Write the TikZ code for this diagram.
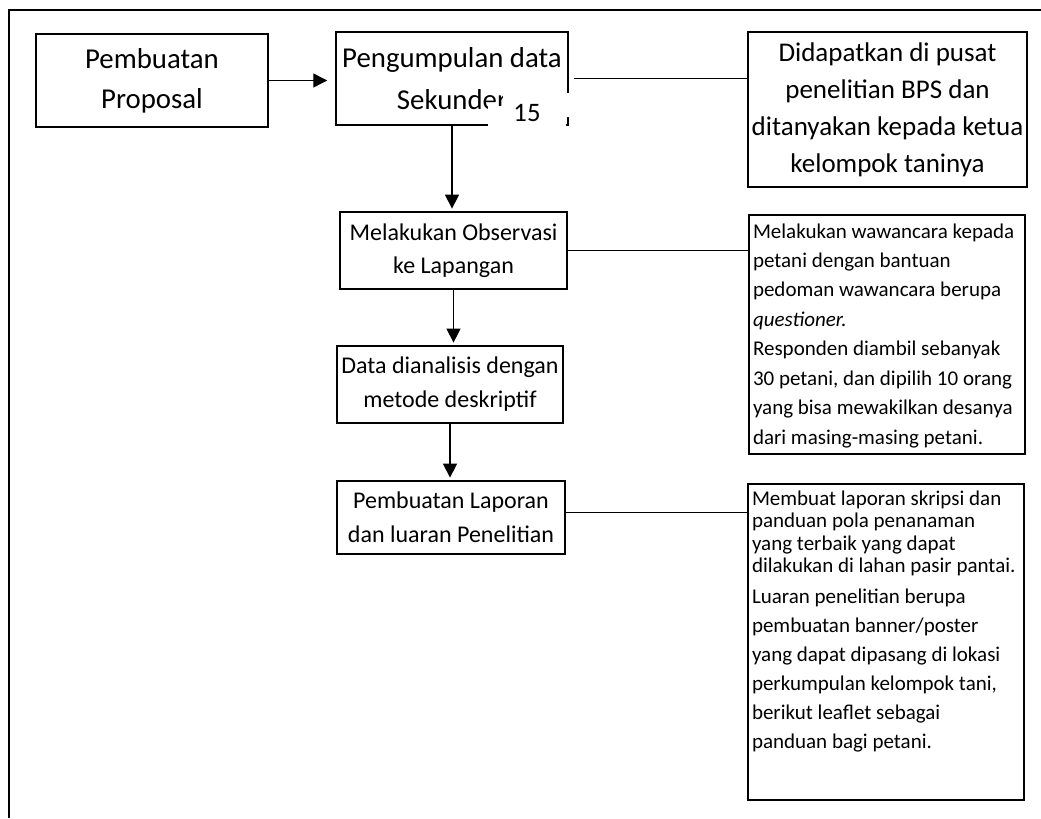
\documentclass[tikz,border=0pt]{standalone}
\usepackage{fontspec}
\setmainfont{Carlito}
\usetikzlibrary{arrows.meta}

\begin{document}
\begin{tikzpicture}[x=0.75pt,y=-0.75pt,
  box/.style={draw,line width=1.1pt,inner sep=1pt,align=center},
  arr/.style={-{Triangle[length=10.5pt,width=10.5pt]},line width=1pt,shorten >=2pt},
  link/.style={line width=1pt}]
\useasboundingbox (0,0) rectangle (1041,818);
\draw[line width=1.5pt] (9,818) -- (9,10) -- (1041,10);
% top row
\node[box,minimum width=174pt,minimum height=69.75pt,font=\fontsize{21.6}{30}\selectfont] (proposal) at (152,80.5) {Pembuatan\\Proposal};
\node[box,minimum width=174pt,minimum height=69.75pt,font=\fontsize{21.6}{31.5}\selectfont] (secondary) at (452,78.5) {Pengumpulan data\\Sekunder};
\node[box,minimum width=209.25pt,minimum height=116.25pt,font=\fontsize{20.25}{27.75}\selectfont] (bps) at (887.5,109.5) {Didapatkan di pusat\\penelitian BPS dan\\ditanyakan kepada ketua\\kelompok taninya};
% page number box over the corner
\fill[white] (488,128) -- (488,106) -- (503,106) -- (503,93) -- (571,93) -- (571,117) -- (566,117) -- (566,128) -- cycle;
\node[font=\fontsize{20}{24}\selectfont,inner sep=0pt] (pagenum) at (527,113) {15};
% middle column
\node[box,minimum width=170.25pt,minimum height=57.75pt,font=\fontsize{18}{25}\selectfont] (observe) at (453.5,250.5) {Melakukan Observasi\\ke Lapangan};
\node[box,minimum width=169.5pt,minimum height=57.75pt,font=\fontsize{18}{25.5}\selectfont] (analyse) at (450,384.5) {Data dianalisis dengan\\metode deskriptif};
\node[box,minimum width=171pt,minimum height=54.75pt,font=\fontsize{18}{25.5}\selectfont] (report) at (451,517.5) {Pembuatan Laporan\\dan luaran Penelitian};
% notes on the right
\node[box,minimum width=207pt,minimum height=179.25pt,inner sep=0pt] (interview) at (887,334.5) {\parbox[c][179.25pt][t]{201pt}{\fontsize{15.75}{22.1}\selectfont
\rule{0pt}{17.25pt}\mbox{Melakukan wawancara kepada}\\
\mbox{petani dengan bantuan}\\
\mbox{pedoman wawancara berupa}\\
\mbox{\textit{questioner.}}\\
\mbox{Responden diambil sebanyak}\\
\mbox{30 petani, dan dipilih 10 orang}\\
\mbox{yang bisa mewakilkan desanya}\\
\mbox{dari masing-masing petani.}}};
\node[box,minimum width=207pt,minimum height=237pt,inner sep=0pt] (output) at (886,642) {\parbox[c][237pt][t]{201pt}{\fontsize{15.75}{16.9}\selectfont
\rule{0pt}{15.75pt}\mbox{Membuat laporan skripsi dan}\\
\mbox{panduan pola penanaman}\\
\mbox{yang terbaik yang dapat}\\
\mbox{dilakukan di lahan pasir pantai.}\par
\fontsize{15.75}{21.75}\selectfont\vspace{1.1pt}
\mbox{Luaran penelitian berupa}\\
\mbox{pembuatan banner/poster}\\
\mbox{yang dapat dipasang di lokasi}\\
\mbox{perkumpulan kelompok tani,}\\
\mbox{berikut leaflet sebagai}\\
\mbox{panduan bagi petani.}}};
% connectors
\draw[arr,shorten >=6pt] (proposal.east) -- (proposal.east -| secondary.west);
\draw[link,shorten <=3.75pt] (secondary.east) -- (secondary.east -| bps.west);
\draw[arr] (secondary.south) -- (secondary.south |- observe.north);
\draw[link] (observe.east) -- (observe.east -| interview.west);
\draw[arr] (observe.south) -- (observe.south |- analyse.north);
\draw[arr] (analyse.south) -- (analyse.south |- report.north);
\draw[link] ([yshift=4pt]report.east) -- ([yshift=4pt]report.east -| output.west);
\end{tikzpicture}
\end{document}
